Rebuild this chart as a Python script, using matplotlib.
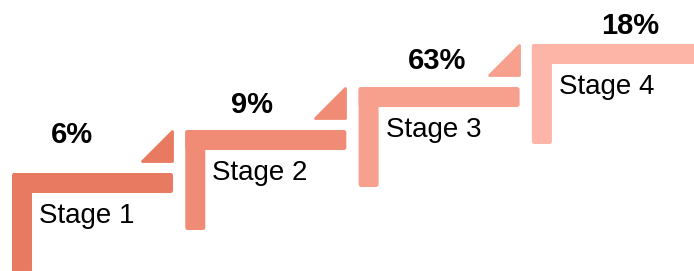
import matplotlib
matplotlib.use('Agg')
import matplotlib.pyplot as plt
from matplotlib.patches import FancyBboxPatch, Polygon

# data
stages = ['Stage 1', 'Stage 2', 'Stage 3', 'Stage 4']
shares = [6, 9, 63, 18]
colors = ['#E97A62', '#F08B76', '#F8A08E', '#FDB5A8']

# layout (pixels, y measured from top)
step_x = 173.3
step_y = 43
left0, top0 = 12, 173
bar_w, bar_t, bar_h = 161, 20, 100
pct_x = [72, 252, 437, 630]
pct_base = [143, 113, 69, 34]

plt.rcParams['font.family'] = ['Liberation Sans', 'DejaVu Sans']

fig = plt.figure(figsize=(6.94, 2.71), dpi=100)
ax = fig.add_axes([0, 0, 1, 1])
ax.set_xlim(0, 694)
ax.set_ylim(271, 0)
ax.axis('off')

for i, (name, val, c) in enumerate(zip(stages, shares, colors)):
    x = left0 + i * step_x
    top = top0 - i * step_y
    w = bar_w if i < len(stages) - 1 else 694 - x + 3
    # horizontal bar
    ax.add_patch(FancyBboxPatch((x, top), w, bar_t,
                                boxstyle='round,pad=0,rounding_size=2.5',
                                fc=c, ec='none'))
    # vertical bar
    ax.add_patch(FancyBboxPatch((x, top), bar_t, bar_h,
                                boxstyle='round,pad=0,rounding_size=2.5',
                                fc=c, ec='none'))
    # arrow-like triangle at the step edge
    if i < len(stages) - 1:
        r = x + bar_w
        b = top - 11
        tri = Polygon([(r - 31, b - 1), (r - 1, b - 1), (r - 1, b - 31)],
                      closed=True, fc=c, ec=c, lw=2, joinstyle='round')
        ax.add_patch(tri)
    ax.text(x + bar_t + 7, top + bar_t + 10, name, fontsize=20,
            ha='left', va='top', color='black')
    ax.text(pct_x[i], pct_base[i], f'{val}%', fontsize=21, fontweight='bold',
            ha='center', va='baseline', color='black')

fig.savefig('out.png', dpi=100)
plt.close(fig)
